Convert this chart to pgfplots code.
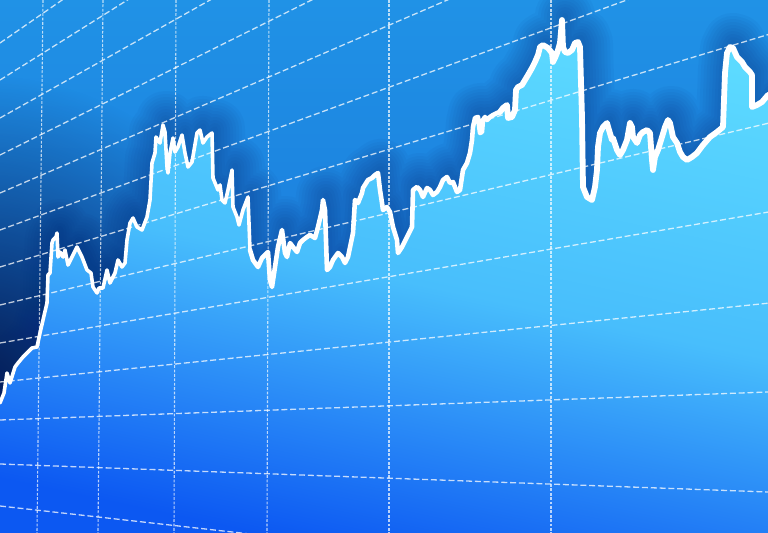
\documentclass[border=0pt]{standalone}
\usepackage{pgfplots}
\pgfplotsset{compat=1.18}
\usepackage{pgfplotstable}
\usetikzlibrary{fadings}
\tikzfading[name=softdisc, inner color=transparent!0, outer color=transparent!100]
\definecolor{bgtop}{HTML}{2092E6}
\definecolor{bgbot}{HTML}{176CD6}
\definecolor{navy}{HTML}{03184F}
\definecolor{shad}{HTML}{062A78}
\definecolor{cyanA}{HTML}{5CDAFF}
\definecolor{cyanM}{HTML}{48BEFC}
\definecolor{blueB}{HTML}{0C58F2}
\pgfplotstableread{
x y
0 403
4 393
7 373
10 383
15 367
18 363
23 357
27 353
32 348
37 347
40 333
43 320
47 303
48 275
50 273
52 243
53 240
56 237
57 233
58 257
60 252
63 257
65 250
68 265
72 257
77 247
82 257
87 270
91 273
93 287
97 293
99 288
103 288
107 270
110 283
115 273
118 260
122 267
125 263
127 240
130 223
133 218
137 227
142 230
147 217
150 200
152 163
155 153
156 137
158 140
160 143
163 125
165 132
167 167
168 173
170 153
173 138
175 152
178 147
182 135
185 153
188 167
192 162
197 133
200 130
203 143
207 137
212 133
213 178
218 190
220 185
222 200
225 203
228 190
230 180
232 170
233 207
237 217
239 225
243 210
248 197
250 250
253 260
258 267
262 258
265 255
268 252
270 280
272 287
275 267
278 247
282 230
285 253
287 257
290 243
293 247
297 252
300 243
303 240
307 237
310 235
315 238
318 227
322 210
323 200
325 210
327 270
330 267
333 260
338 253
342 257
345 263
348 257
353 233
355 200
358 203
362 193
363 188
368 180
372 178
375 175
378 173
380 190
382 203
383 210
387 207
390 212
393 227
397 240
398 253
402 247
407 237
412 227
413 190
417 187
420 190
423 197
427 188
430 190
433 195
437 192
440 187
443 180
447 177
450 183
453 182
457 192
460 190
463 170
467 163
470 153
472 140
473 127
475 118
478 117
480 133
482 132
483 120
485 117
487 120
490 117
493 115
497 113
500 112
503 108
507 105
508 118
512 117
515 110
516 90
518 87
522 85
525 80
528 75
532 68
535 62
538 55
540 47
543 45
548 48
552 53
553 62
555 58
557 53
558 50
560 43
562 20
563 47
565 52
568 53
572 50
575 43
578 42
580 47
582 117
583 187
587 197
592 200
595 187
597 170
598 147
600 133
603 127
607 123
609 130
612 140
613 138
617 150
620 155
623 150
627 140
630 123
632 127
633 137
637 143
640 135
643 132
647 130
650 133
652 160
653 170
655 157
658 150
662 137
665 127
668 120
670 123
673 137
677 143
680 152
683 157
687 160
692 157
697 153
703 145
710 137
717 132
723 127
725 73
727 53
730 47
733 48
737 57
742 62
745 67
750 72
752 75
752 107
757 105
762 102
768 95
}\curve
\begin{document}
\begin{tikzpicture}
\begin{axis}[scale only axis, width=384pt, height=266.5pt,
  xmin=0, xmax=768, ymin=0, ymax=533, y dir=reverse,
  hide axis, clip=true,
  hgrid/.style={white, opacity=0.75, line width=0.65pt, dash pattern=on 3pt off 1.4pt},
  vgrid/.style={white, opacity=0.7, line width=0.55pt, dash pattern=on 1.4pt off 0.8pt},
  glow/.style={shad, draw opacity=0.045, line join=round, line cap=round, yshift=2pt, xshift=1.5pt}]
% background
\addplot[draw=none, top color=bgtop, bottom color=bgbot] coordinates {(0,0) (768,0) (768,533) (0,533)} -- cycle;
% dark vignette at left
\fill[navy, path fading=softdisc] (axis cs:-25,395) circle[radius=160pt];
% soft shadow around the curve (lower half is covered by the fill)
\pgfplotsinvokeforeach{3,6,9,12,15,18,21,24,27,30}{
  \addplot[glow, line width=#1pt] table {\curve};
}
% area under the curve
\addplot[draw=none, top color=cyanA, bottom color=blueB, middle color=cyanM, shading angle=-12] table {\curve} -- (axis cs:768,533) -- (axis cs:0,533) -- cycle;
% perspective grid: receding lines
\addplot[hgrid] coordinates {(0,43) (768,-488.6)};
\addplot[hgrid] coordinates {(0,80) (768,-402.2)};
\addplot[hgrid] coordinates {(0,118) (768,-313.4)};
\addplot[hgrid] coordinates {(0,155) (768,-227.0)};
\addplot[hgrid] coordinates {(0,193) (768,-138.3)};
\addplot[hgrid] coordinates {(0,230) (768,-51.8)};
\addplot[hgrid] coordinates {(0,267) (768,34.6)};
\addplot[hgrid] coordinates {(0,305) (768,123.3)};
\addplot[hgrid] coordinates {(0,343) (768,212.1)};
\addplot[hgrid] coordinates {(0,382) (768,303.2)};
\addplot[hgrid] coordinates {(0,420) (768,392.0)};
\addplot[hgrid] coordinates {(0,464) (768,492.0)};
\addplot[hgrid] coordinates {(0,506) (768,592.0)};
% verticals
\addplot[vgrid] coordinates {(43,0) (37,533)};
\addplot[vgrid] coordinates {(103,0) (98,533)};
\addplot[vgrid] coordinates {(176,0) (174,533)};
\addplot[vgrid] coordinates {(269,0) (267,533)};
\addplot[vgrid] coordinates {(389,0) (389,533)};
\addplot[vgrid] coordinates {(551,0) (551,533)};
% the price line, thicker towards the viewer (right)
\addplot[white, line width=1.8pt, line join=round, line cap=round, restrict x to domain=0:250] table {\curve};
\addplot[white, line width=2.3pt, line join=round, line cap=round, restrict x to domain=250:500] table {\curve};
\addplot[white, line width=2.9pt, line join=round, line cap=round, restrict x to domain=500:768] table {\curve};
\end{axis}
\end{tikzpicture}
\end{document}
